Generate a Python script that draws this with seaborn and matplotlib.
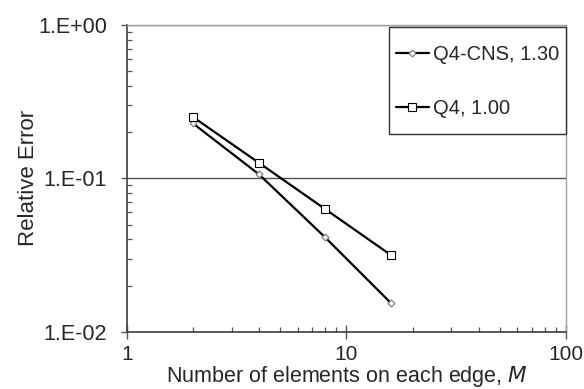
#!/usr/bin/env python3

import numpy as np
import pandas as pd
import seaborn as sns
import matplotlib as mpl
import matplotlib.ticker
import matplotlib.pyplot as plt
from matplotlib.lines import Line2D
from matplotlib.legend_handler import HandlerLine2D

sns.set_style("white")
mpl.rcParams["font.family"] = ["Liberation Sans", "DejaVu Sans"]
mpl.rcParams["figure.dpi"] = 100

# data
elements = [2, 4, 8, 16]
err_q4cns = [0.228, 0.106, 0.0412, 0.0153]
err_q4 = [0.251, 0.126, 0.063, 0.0315]
series_labels = ["Q4-CNS, 1.30", "Q4, 1.00"]
x_ticks = [1, 10, 100]
x_tick_labels = ["1", "10", "100"]
y_ticks = [0.01, 0.1, 1]
y_tick_labels = ["1.E-02", "1.E-01", "1.E+00"]

df = pd.DataFrame(
    {
        "M": elements * 2,
        "err": err_q4cns + err_q4,
        "method": [series_labels[0]] * 4 + [series_labels[1]] * 4,
    }
)


class CenteredLine(HandlerLine2D):
    # keep the legend line level with the middle of the text
    def create_artists(self, legend, orig_handle, xdescent, ydescent, width,
                       height, fontsize, trans):
        artists = super().create_artists(legend, orig_handle, xdescent, ydescent,
                                         width, height, fontsize, trans)
        for a in artists:
            a.set_ydata(np.full_like(a.get_xdata(), 0.36 * fontsize))
        return artists


fig = plt.figure(figsize=(5.84, 3.89))
ax = fig.add_axes([0.2175, 0.1473, 0.7515, 0.7884])

sns.lineplot(
    ax=ax,
    data=df[df["method"] == series_labels[0]],
    x="M",
    y="err",
    color="black",
    linewidth=1.6,
    marker="D",
    markersize=3.5,
    markerfacecolor="white",
    markeredgecolor="#808080",
    markeredgewidth=0.9,
    label=series_labels[0],
)
sns.lineplot(
    ax=ax,
    data=df[df["method"] == series_labels[1]],
    x="M",
    y="err",
    color="black",
    linewidth=1.6,
    marker="s",
    markersize=5.5,
    markerfacecolor="white",
    markeredgecolor="black",
    markeredgewidth=0.8,
    label=series_labels[1],
)

ax.set_xscale("log")
ax.set_yscale("log")
ax.set_xlim(1, 100)
ax.set_ylim(0.01, 1)
ax.xaxis.set_major_locator(mpl.ticker.FixedLocator(x_ticks))
ax.xaxis.set_major_formatter(mpl.ticker.FixedFormatter(x_tick_labels))
ax.yaxis.set_major_locator(mpl.ticker.FixedLocator(y_ticks))
ax.yaxis.set_major_formatter(mpl.ticker.FixedFormatter(y_tick_labels))
ax.xaxis.set_minor_locator(mpl.ticker.LogLocator(base=10, subs=np.arange(2, 10)))
ax.yaxis.set_minor_locator(mpl.ticker.LogLocator(base=10, subs=np.arange(2, 10)))
ax.xaxis.set_minor_formatter(mpl.ticker.NullFormatter())
ax.yaxis.set_minor_formatter(mpl.ticker.NullFormatter())

ax.tick_params(axis="x", which="major", direction="inout", length=9.5, width=1,
               color="#555555", labelsize=15, pad=5, bottom=True)
ax.tick_params(axis="y", which="major", direction="out", length=4.5, width=1,
               color="#555555", labelsize=15.5, pad=10, left=True)
ax.tick_params(axis="both", which="minor", direction="in", length=3.6, width=0.9,
               color="#555555", bottom=True, left=True, top=False, right=False)

ax.grid(False)
ax.yaxis.grid(True, which="major", color="#505050", linewidth=1.0)
for side in ["left", "bottom"]:
    ax.spines[side].set_color("#404040")
    ax.spines[side].set_linewidth(1.2)
for side in ["top", "right"]:
    ax.spines[side].set_color("#a0a0a0")
    ax.spines[side].set_linewidth(1.0)

ax.set_xlabel("Number of elements on each edge, $\\it{M}$", fontsize=15.5, labelpad=0)
ax.set_ylabel("Relative Error", fontsize=16, labelpad=-1)

leg = ax.legend(
    loc="upper right",
    bbox_to_anchor=(1.0, 0.9925),
    borderaxespad=0,
    fontsize=14.5,
    handlelength=1.6,
    handletextpad=0.2,
    handleheight=2.6,
    labelspacing=0.75,
    borderpad=0.35,
    fancybox=False,
    framealpha=1,
    edgecolor="#303030",
    handler_map={Line2D: CenteredLine()},
)
leg.get_frame().set_linewidth(1.0)

plt.savefig("out.png", dpi=100)
